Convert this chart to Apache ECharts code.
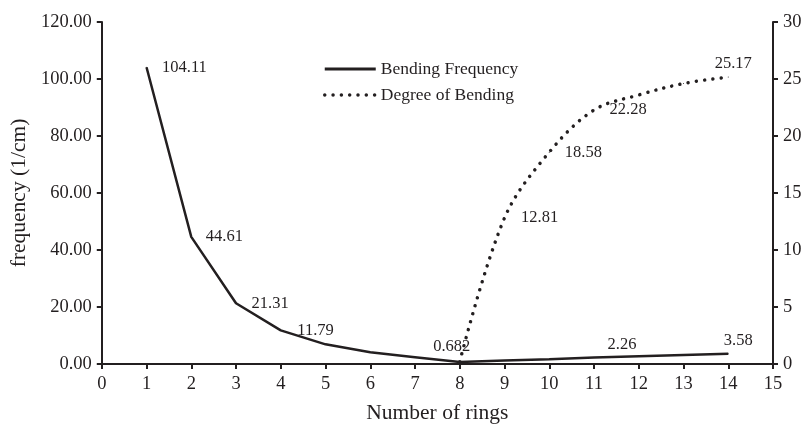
<!DOCTYPE html>
<html><head><meta charset="utf-8">
<script src="https://cdn.jsdelivr.net/npm/echarts@6/dist/echarts.min.js"></script>
<style>html,body{margin:0;padding:0;background:#fff}#c{width:806px;height:429px}</style>
</head><body><div id="c"></div>
<script>
const rings = [1,2,3,4,5,6,7,8,9,10,11,12,13,14];
const bendingFrequency = [104.11,44.61,21.31,11.79,6.9,4.1,2.4,0.682,1.2,1.7,2.26,2.7,3.15,3.58];
const bendingRings = [8,9,10,11,12,13,14];
const degreeOfBending = [0.2,12.81,18.58,22.28,23.6,24.6,25.17];
const freqLabelIdx = [0,1,2,3,7,10,13];
const degLabelIdx = [1,2,3,6];
const xTicks = {min:0,max:15,interval:1};
const leftTicks = {min:0,max:120,interval:20};
const rightTicks = {min:0,max:30,interval:5};

const FONT = 'Liberation Serif';
const INK = '#231f20';

const freqLabelCfg = {
  0:{position:'right',distance:15},
  1:{position:'right',distance:14},
  2:{position:'right',distance:15},
  3:{position:'right',distance:16},
  7:{position:'top',distance:6,offset:[-8,0]},
  10:{position:'top',distance:4,offset:[28,0]},
  13:{position:'top',distance:4,offset:[10,0]}
};
const degLabelCfg = {
  1:{position:'right',distance:16},
  2:{position:'right',distance:15},
  3:{position:'right',distance:15},
  6:{position:'top',distance:4,offset:[5,0]}
};

function build(xs, ys, idx, cfg){
  return xs.map((x,i)=>{
    const o = {value:[x, ys[i]]};
    if (idx.includes(i)) {
      o.label = Object.assign({show:true, formatter: String(ys[i])}, cfg[i]);
    } else {
      o.label = {show:false};
    }
    return o;
  });
}

const chart = echarts.init(document.getElementById('c'));
const axisCommon = {
  axisLine:{show:true,lineStyle:{color:INK,width:2}},
  axisTick:{show:true,inside:false,length:5,lineStyle:{color:INK,width:2}},
  splitLine:{show:false},
  nameTextStyle:{color:INK,fontFamily:FONT,fontSize:21.5}
};
const tickFont = {color:INK,fontFamily:FONT,fontSize:18.5};
const dotted = {color:INK,width:3.5,type:[0.01,8.3],cap:'round'};
chart.setOption({
  animation:false,
  backgroundColor:'#fff',
  textStyle:{fontFamily:FONT,color:INK},
  grid:{left:100,right:33,top:22,bottom:57,containLabel:false},
  legend:{
    orient:'vertical', left:318, top:55, itemWidth:51, itemHeight:12, itemGap:8,
    textStyle:{fontFamily:FONT,fontSize:17.5,color:INK},
    itemStyle:{opacity:0},
    data:[
      {name:'Bending Frequency', lineStyle:{color:INK,width:3}},
      {name:'Degree of Bending', lineStyle:dotted}
    ]
  },
  xAxis:Object.assign({}, axisCommon, {
    type:'value', min:xTicks.min, max:xTicks.max, interval:xTicks.interval,
    name:'Number of rings', nameLocation:'middle', nameGap:38,
    axisLabel:Object.assign({margin:11}, tickFont)
  }),
  yAxis:[
    Object.assign({}, axisCommon, {
      type:'value', min:leftTicks.min, max:leftTicks.max, interval:leftTicks.interval,
      name:'frequency (1/cm)', nameLocation:'middle', nameGap:62,
      axisLabel:Object.assign({margin:10,formatter:v=>v.toFixed(2)}, tickFont)
    }),
    Object.assign({}, axisCommon, {
      type:'value', position:'right', min:rightTicks.min, max:rightTicks.max, interval:rightTicks.interval,
      axisLabel:Object.assign({margin:10}, tickFont)
    })
  ],
  series:[
    {
      name:'Bending Frequency', type:'line', yAxisIndex:0,
      data:build(rings, bendingFrequency, freqLabelIdx, freqLabelCfg),
      symbol:'circle', symbolSize:1, showSymbol:true,
      itemStyle:{color:INK},
      lineStyle:{color:INK,width:2.5},
      label:{color:INK,fontFamily:FONT,fontSize:16.5},
      z:3
    },
    {
      name:'Degree of Bending', type:'line', yAxisIndex:1, smooth:0.35,
      data:build(bendingRings, degreeOfBending, degLabelIdx, degLabelCfg),
      symbol:'circle', symbolSize:1, showSymbol:true,
      itemStyle:{color:INK},
      lineStyle:dotted,
      label:{color:INK,fontFamily:FONT,fontSize:16.5},
      z:2
    }
  ]
});
</script></body></html>
